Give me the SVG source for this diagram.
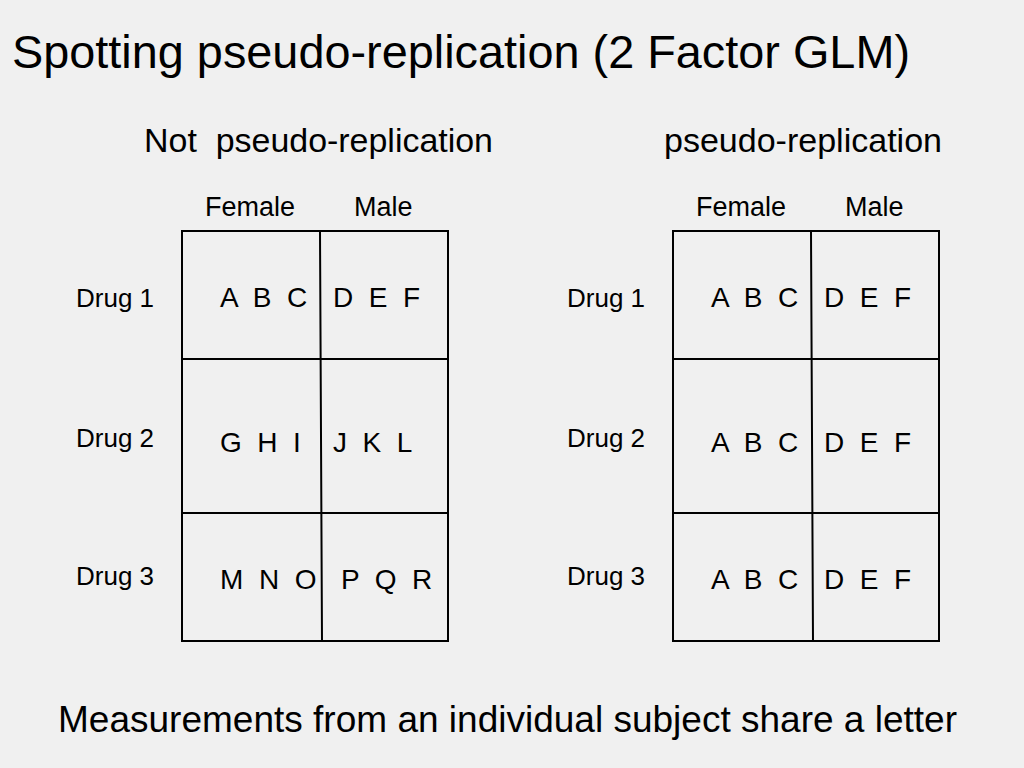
<svg xmlns="http://www.w3.org/2000/svg" width="1024" height="768" viewBox="0 0 1024 768">
<style>
text{font-family:"Liberation Sans",Arial,sans-serif;fill:#000;white-space:pre}
.t{font-size:46px}.s{font-size:34px}.h{font-size:27px}.r{font-size:26px}.c{font-size:28px}.f{font-size:37px}
.g{fill:none;stroke:#000;stroke-width:2}
</style>
<rect width="1024" height="768" fill="#f0f0f0"/>
<text class="t" x="12" y="68" textLength="898" lengthAdjust="spacingAndGlyphs">Spotting pseudo-replication (2 Factor GLM)</text>
<text class="s" x="144" y="152" textLength="349" lengthAdjust="spacingAndGlyphs">Not  pseudo-replication</text>
<text class="s" x="664" y="152" textLength="278" lengthAdjust="spacingAndGlyphs">pseudo-replication</text>
<g id="left">
<text class="h" x="205" y="216">Female</text><text class="h" x="354" y="216">Male</text>
<rect class="g" x="182" y="231" width="266" height="410"/>
<path class="g" d="M320 231L322 641M182 359H448M182 513H448"/>
<text class="r" x="76" y="307">Drug 1</text><text class="r" x="76" y="447">Drug 2</text><text class="r" x="76" y="585">Drug 3</text>
<text class="c" x="220" y="307">A  B  C</text><text class="c" x="333" y="307">D  E  F</text>
<text class="c" x="220" y="452">G  H  I</text><text class="c" x="333" y="452">J  K  L</text>
<text class="c" x="220" y="589">M  N  O</text><text class="c" x="341" y="589">P  Q  R</text>
</g>
<g id="right">
<text class="h" x="696" y="216">Female</text><text class="h" x="845" y="216">Male</text>
<rect class="g" x="673" y="231" width="266" height="410"/>
<path class="g" d="M811 231L813 641M673 359H939M673 513H939"/>
<text class="r" x="567" y="307">Drug 1</text><text class="r" x="567" y="447">Drug 2</text><text class="r" x="567" y="585">Drug 3</text>
<text class="c" x="711" y="307">A  B  C</text><text class="c" x="824" y="307">D  E  F</text>
<text class="c" x="711" y="452">A  B  C</text><text class="c" x="824" y="452">D  E  F</text>
<text class="c" x="711" y="589">A  B  C</text><text class="c" x="824" y="589">D  E  F</text>
</g>
<text class="f" x="58" y="732" textLength="899" lengthAdjust="spacingAndGlyphs">Measurements from an individual subject share a letter</text>
</svg>
